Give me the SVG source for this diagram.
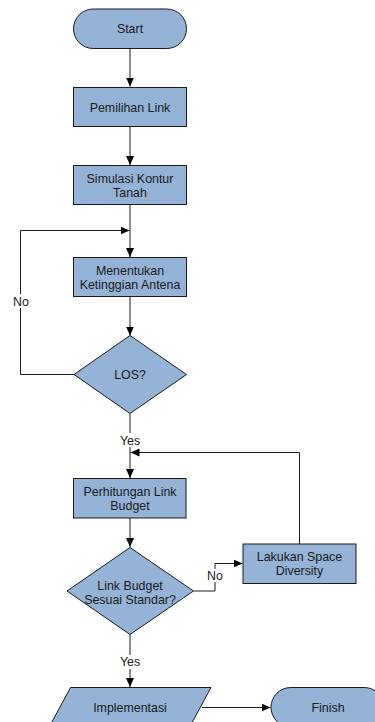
<svg xmlns="http://www.w3.org/2000/svg" width="375" height="722" viewBox="0 0 375 722">
<defs>
<style>
.s{fill:#95B3D7;stroke:#1a1a1a;stroke-width:1}
.t{font-family:"Liberation Sans",Arial,sans-serif;font-size:12.4px;fill:#1a1a1a;text-anchor:middle}
.c{fill:none;stroke:#1a1a1a;stroke-width:1}
.lb{fill:#ffffff}
</style>
<marker id="a" markerWidth="10" markerHeight="10" refX="9" refY="5" orient="auto" markerUnits="userSpaceOnUse">
<path d="M0,1 L9,5 L0,9 Z" fill="#000"/>
</marker>
</defs>
<rect width="375" height="722" fill="#fff"/>
<g id="connectors">
<path class="c" d="M130,48.5 V86.5" marker-end="url(#a)"/>
<path class="c" d="M130,126.5 V165" marker-end="url(#a)"/>
<path class="c" d="M130,204.5 V257" marker-end="url(#a)"/>
<path class="c" d="M74,374.5 H20.5 V230.5 H129.5" marker-end="url(#a)"/>
<path class="c" d="M130,296.5 V335.5" marker-end="url(#a)"/>
<path class="c" d="M130,413.5 V478" marker-end="url(#a)"/>
<path class="c" d="M299.5,544 V452.5 H130.5" marker-end="url(#a)"/>
<path class="c" d="M130,518 V547" marker-end="url(#a)"/>
<path class="c" d="M193.5,591 H215 V563.5 H242.5" marker-end="url(#a)"/>
<path class="c" d="M130,634.5 V687" marker-end="url(#a)"/>
<path class="c" d="M202,707.5 H270.5" marker-end="url(#a)"/>
<rect class="lb" x="10" y="294" width="22" height="14"/>
<text class="t" x="21" y="305.5">No</text>
<rect class="lb" x="117" y="433" width="26" height="14"/>
<text class="t" x="130" y="444.5">Yes</text>
<rect class="lb" x="205" y="569" width="20" height="13"/>
<text class="t" x="215" y="579.5">No</text>
<rect class="lb" x="117" y="655" width="26" height="14"/>
<text class="t" x="130" y="666">Yes</text>
</g>
<g id="start">
<rect class="s" x="73.5" y="9" width="113" height="39.5" rx="19.75"/>
<text class="t" x="130" y="32.5">Start</text>
</g>
<g id="pemilihan">
<rect class="s" x="73.5" y="87.5" width="113" height="39"/>
<text class="t" x="130" y="111.5">Pemilihan Link</text>
</g>
<g id="simulasi">
<rect class="s" x="73.5" y="165.5" width="113" height="39"/>
<text class="t" x="130" y="182.5">Simulasi Kontur</text>
<text class="t" x="130" y="196.5">Tanah</text>
</g>
<g id="menentukan">
<rect class="s" x="73.5" y="257.5" width="113" height="39"/>
<text class="t" x="130" y="274.5">Menentukan</text>
<text class="t" x="130" y="288.5">Ketinggian Antena</text>
</g>
<g id="los">
<polygon class="s" points="130,335.5 186.5,374.5 130,413.5 74,374.5"/>
<text class="t" x="130" y="379">LOS?</text>
</g>
<g id="perhitungan">
<rect class="s" x="73.5" y="478.5" width="112.5" height="39.5"/>
<text class="t" x="130" y="496">Perhitungan Link</text>
<text class="t" x="130" y="510">Budget</text>
</g>
<g id="linkbudget">
<polygon class="s" points="130,547.5 193.5,591 130,634.5 67,591"/>
<text class="t" x="130" y="589.5">Link Budget</text>
<text class="t" x="130" y="603.5">Sesuai Standar?</text>
</g>
<g id="lakukan">
<rect class="s" x="243" y="544" width="113" height="39.5"/>
<text class="t" x="299.5" y="561">Lakukan Space</text>
<text class="t" x="299.5" y="575">Diversity</text>
</g>
<g id="implementasi">
<polygon class="s" points="70.5,687.5 211,687.5 190,726.5 49.5,726.5"/>
<text class="t" x="130" y="712">Implementasi</text>
</g>
<g id="finish">
<rect class="s" x="271" y="687.5" width="113" height="39.5" rx="19.75"/>
<text class="t" x="328" y="712">Finish</text>
</g>
</svg>
